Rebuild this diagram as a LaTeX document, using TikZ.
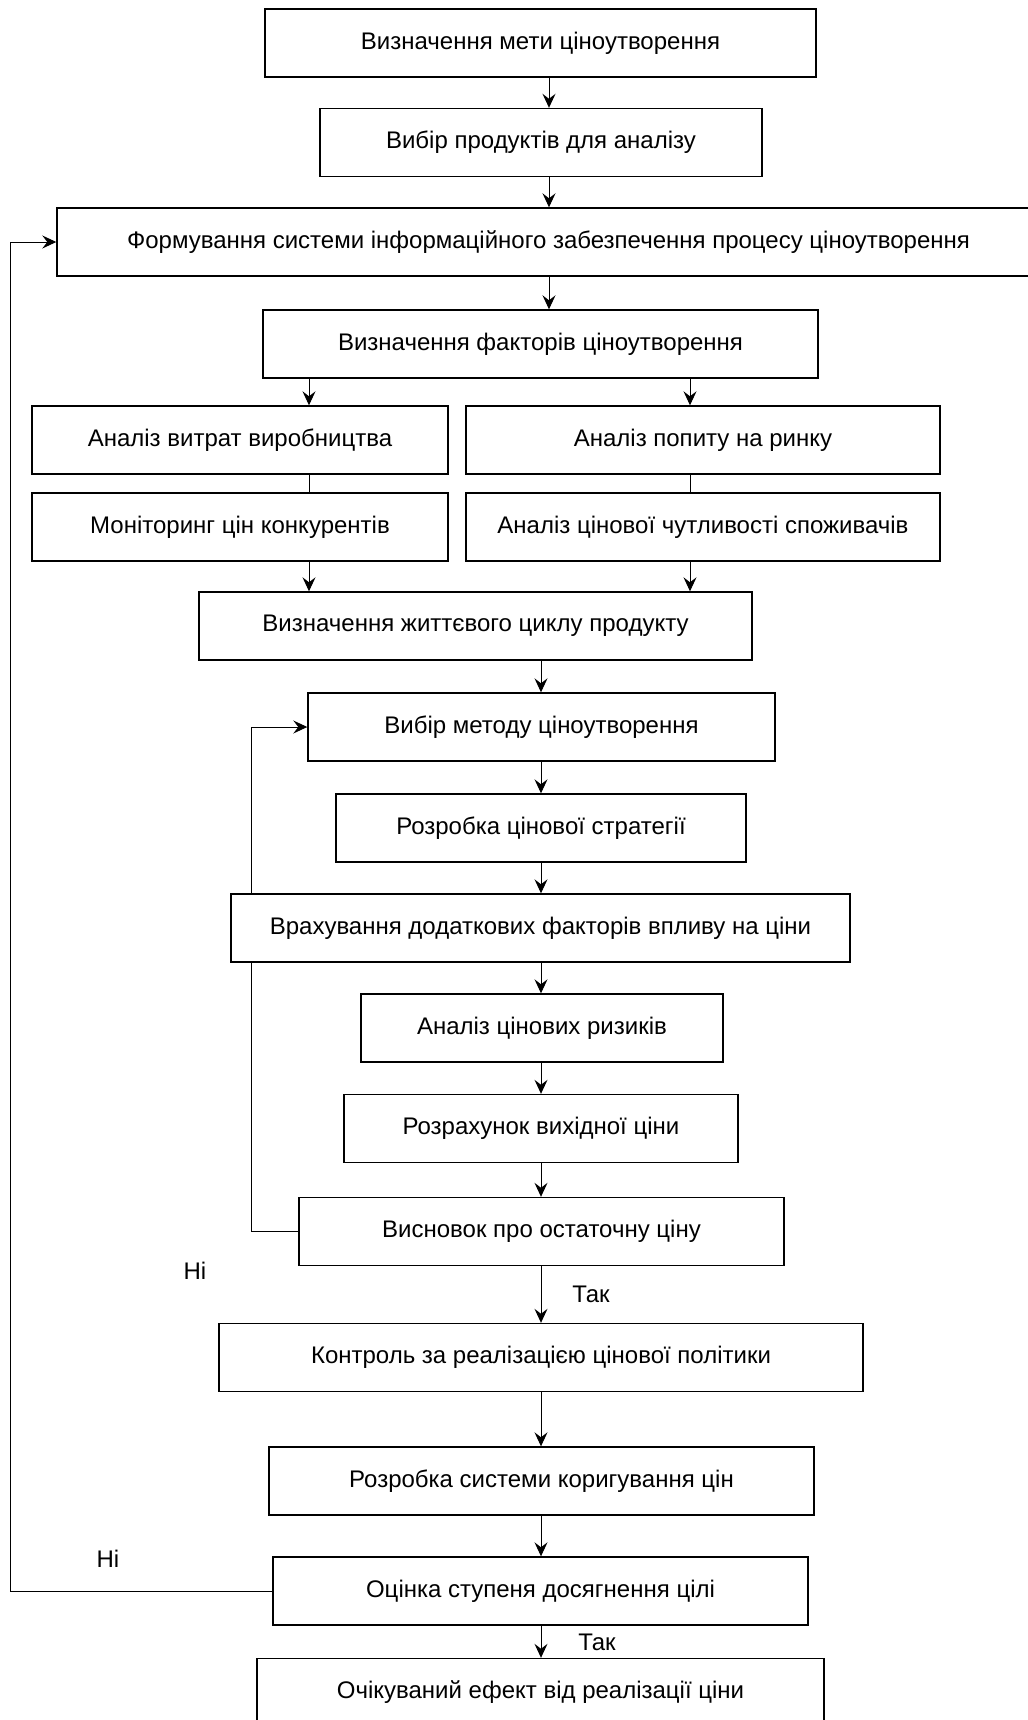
\documentclass[tikz,border=0pt]{standalone}
\usepackage{fontspec}
\setmainfont{Liberation Sans}
\usetikzlibrary{arrows.meta,positioning,backgrounds}
\tikzset{
  blk/.style={draw, rectangle, line width=0.7pt, fill=white, minimum height=34pt, inner sep=2pt, font=\fontsize{12}{14}\selectfont},
  arr/.style={-{Stealth[length=7pt,width=6.5pt,inset=2.5pt]}, line width=0.5pt},
  lnk/.style={-, line width=0.5pt},
  lbl/.style={font=\fontsize{12}{14}\selectfont, inner sep=0pt}
}

\begin{document}
\begin{tikzpicture}[x=0.5pt, y=-0.5pt]
\useasboundingbox (0,0) rectangle (1028,1720);
% columns of the connectors
\coordinate (ca) at (549,0); \coordinate (cm) at (541,0); \coordinate (cl) at (309,0); \coordinate (cr) at (690,0);
\coordinate (lo) at (10,0); \coordinate (li) at (251,0);
\node[blk, minimum width=275.5pt] (b1) at (540.5,43) {Визначення мети ціноутворення};
\node[blk, minimum width=221pt] (b2) at (541,142.5) {Вибір продуктів для аналізу};
\node[blk, minimum width=491.5pt] (b3) at (548.5,242) {Формування системи інформаційного забезпечення процесу ціноутворення};
\node[blk, minimum width=277.5pt] (b4) at (540.5,344) {Визначення факторів ціноутворення};
\node[blk, minimum width=208pt] (b5) at (240,440) {Аналіз витрат виробництва};
\node[blk, minimum width=237pt] (b6) at (703,440) {Аналіз попиту на ринку};
\node[blk, minimum width=208pt] (b7) at (240,527) {Моніторинг цін конкурентів};
\node[blk, minimum width=237pt] (b8) at (703,527) {Аналіз цінової чутливості споживачів};
\node[blk, minimum width=276.5pt] (b9) at (475.5,626) {Визначення життєвого циклу продукту};
\node[blk, minimum width=233.5pt] (b10) at (541.5,727) {Вибір методу ціноутворення};
\node[blk, minimum width=205pt] (b11) at (541,828) {Розробка цінової стратегії};
\node[blk, minimum width=309.5pt] (b12) at (540.5,928) {Врахування додаткових факторів впливу на ціни};
\node[blk, minimum width=181pt] (b13) at (542,1028) {Аналіз цінових ризиків};
\node[blk, minimum width=197pt] (b14) at (541,1128.5) {Розрахунок вихідної ціни};
\node[blk, minimum width=242.5pt] (b15) at (541.5,1231.5) {Висновок про остаточну ціну};
\node[blk, minimum width=322pt] (b16) at (541,1357.5) {Контроль за реалізацією цінової політики};
\node[blk, minimum width=272.5pt] (b17) at (541.5,1481) {Розробка системи коригування цін};
\node[blk, minimum width=267.5pt] (b18) at (540.5,1591) {Оцінка ступеня досягнення цілі};
\node[blk, minimum width=283.5pt] (b19) at (540.5,1692.5) {Очікуваний ефект від реалізації ціни};
\node[lbl] (no1) at (195,1271) {Ні}; \node[lbl] (yes1) at (591,1294) {Так};
\node[lbl] (no2) at (108,1559) {Ні}; \node[lbl] (yes2) at (597,1642) {Так};
% main flow
\draw[arr] (ca |- b1.south) -- (ca |- b2.north); \draw[arr] (ca |- b2.south) -- (ca |- b3.north); \draw[arr] (ca |- b3.south) -- (ca |- b4.north);
\draw[arr] (cl |- b4.south) -- (cl |- b5.north); \draw[arr] (cr |- b4.south) -- (cr |- b6.north);
\draw[lnk] (cl |- b5.south) -- (cl |- b7.north); \draw[lnk] (cr |- b6.south) -- (cr |- b8.north);
\draw[arr] (cl |- b7.south) -- (cl |- b9.north); \draw[arr] (cr |- b8.south) -- (cr |- b9.north);
\draw[arr] (cm |- b9.south) -- (cm |- b10.north); \draw[arr] (cm |- b10.south) -- (cm |- b11.north); \draw[arr] (cm |- b11.south) -- (cm |- b12.north);
\draw[arr] (cm |- b12.south) -- (cm |- b13.north); \draw[arr] (cm |- b13.south) -- (cm |- b14.north); \draw[arr] (cm |- b14.south) -- (cm |- b15.north);
\draw[arr] (cm |- b15.south) -- (cm |- b16.north); \draw[arr] (cm |- b16.south) -- (cm |- b17.north); \draw[arr] (cm |- b17.south) -- (cm |- b18.north);
\draw[arr] (cm |- b18.south) -- (cm |- b19.north);
% feedback loops
\draw[arr] (b18.west) -- (lo |- b18.west) -- (lo |- b3.west) -- (b3.west);
\begin{scope}[on background layer]
\draw[arr] (b15.west) -- (li |- b15.west) -- (li |- b10.west) -- (b10.west);
\end{scope}
\end{tikzpicture}
\end{document}
